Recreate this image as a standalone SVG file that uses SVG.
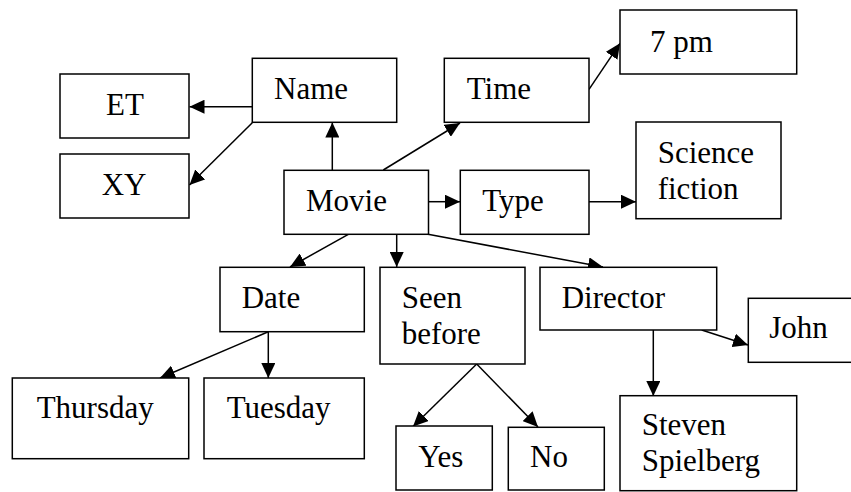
<svg xmlns="http://www.w3.org/2000/svg" width="851" height="492" viewBox="0 0 851 492">
<style>
.box{fill:#fff;stroke:#000;stroke-width:1.5}
.lbl{font-family:'Liberation Serif','Times New Roman',serif;font-size:31px;fill:#000}
.edge{stroke:#000;stroke-width:1.5;fill:none;marker-end:url(#ah)}
</style>
<defs>
<marker id="ah" markerUnits="userSpaceOnUse" markerWidth="15" markerHeight="14" refX="15" refY="7" orient="auto" viewBox="0 0 15 14">
<path d="M0,0 L15,7 L0,14 z" fill="#000"/>
</marker>
</defs>
<rect width="851" height="492" fill="#fff"/>
<g id="connectors">
<line class="edge" x1="252" y1="106.7" x2="189.5" y2="106.7"/>
<line class="edge" x1="252.3" y1="122.7" x2="189.5" y2="185"/>
<line class="edge" x1="332.3" y1="170" x2="332.3" y2="122.5"/>
<line class="edge" x1="383.3" y1="170" x2="460" y2="123"/>
<line class="edge" x1="589" y1="89.3" x2="620" y2="43.3"/>
<line class="edge" x1="428.5" y1="201.7" x2="460" y2="201.7"/>
<line class="edge" x1="589" y1="201.7" x2="636" y2="201.7"/>
<line class="edge" x1="348.3" y1="234.3" x2="290" y2="267"/>
<line class="edge" x1="396.7" y1="234.3" x2="396.7" y2="267"/>
<line class="edge" x1="428" y1="234.3" x2="603" y2="267"/>
<line class="edge" x1="268.3" y1="331.7" x2="160" y2="378"/>
<line class="edge" x1="268.3" y1="331.7" x2="268.3" y2="378"/>
<line class="edge" x1="476.7" y1="364" x2="413" y2="426.5"/>
<line class="edge" x1="476.7" y1="364" x2="538" y2="427"/>
<line class="edge" x1="653.3" y1="330" x2="653.3" y2="396"/>
<line class="edge" x1="701.7" y1="330" x2="748" y2="345"/>
</g>
<g id="node-et"><rect class="box" x="60" y="74" width="129" height="64"/><text class="lbl" x="106" y="115">ET</text></g>
<g id="node-xy"><rect class="box" x="60" y="154" width="129" height="64"/><text class="lbl" x="101.7" y="195">XY</text></g>
<g id="node-name"><rect class="box" x="252.3" y="58.3" width="144.4" height="64"/><text class="lbl" x="274" y="99">Name</text></g>
<g id="node-time"><rect class="box" x="444.3" y="58.3" width="144.7" height="64"/><text class="lbl" x="466.7" y="99">Time</text></g>
<g id="node-7pm"><rect class="box" x="620" y="10" width="176.7" height="64"/><text class="lbl" x="650" y="51.7">7 pm</text></g>
<g id="node-movie"><rect class="box" x="284" y="170.3" width="144.5" height="64"/><text class="lbl" x="306" y="210.7">Movie</text></g>
<g id="node-type"><rect class="box" x="460.3" y="170.3" width="128.7" height="64"/><text class="lbl" x="482.3" y="210.7">Type</text></g>
<g id="node-scifi"><rect class="box" x="636" y="122" width="145" height="96.7"/><text class="lbl" x="657.7" y="163.3">Science</text><text class="lbl" x="657.7" y="199.3">fiction</text></g>
<g id="node-date"><rect class="box" x="220" y="267.3" width="144.3" height="64.4"/><text class="lbl" x="241.7" y="308.3">Date</text></g>
<g id="node-seen"><rect class="box" x="380" y="267.3" width="145" height="96.7"/><text class="lbl" x="401.7" y="308.3">Seen</text><text class="lbl" x="401.7" y="344">before</text></g>
<g id="node-director"><rect class="box" x="540" y="267.3" width="176.7" height="62.7"/><text class="lbl" x="561.7" y="308.3">Director</text></g>
<g id="node-john"><rect class="box" x="748.3" y="298.3" width="110" height="64"/><text class="lbl" x="769.3" y="338.3">John</text></g>
<g id="node-thursday"><rect class="box" x="12.3" y="378" width="176.4" height="80.7"/><text class="lbl" x="36.7" y="418.3">Thursday</text></g>
<g id="node-tuesday"><rect class="box" x="204" y="378" width="160.3" height="80.7"/><text class="lbl" x="226.7" y="418.3">Tuesday</text></g>
<g id="node-yes"><rect class="box" x="396" y="426" width="96.3" height="64"/><text class="lbl" x="418.3" y="466.7">Yes</text></g>
<g id="node-no"><rect class="box" x="508.3" y="427.3" width="96" height="62.7"/><text class="lbl" x="530" y="466.7">No</text></g>
<g id="node-spielberg"><rect class="box" x="620" y="395.7" width="176.7" height="95"/><text class="lbl" x="641.7" y="435">Steven</text><text class="lbl" x="641.7" y="470.7">Spielberg</text></g>
</svg>
